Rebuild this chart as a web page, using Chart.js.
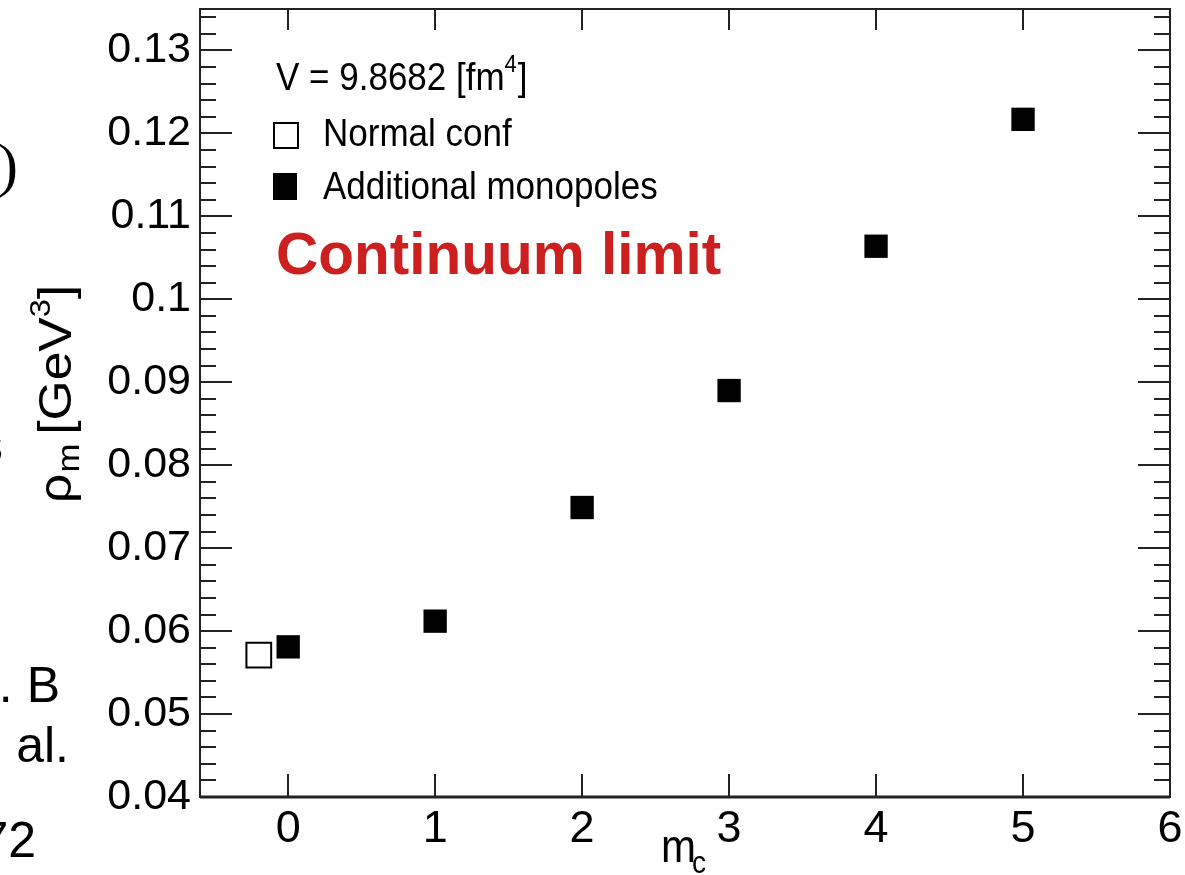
<!DOCTYPE html>
<html>
<head>
<meta charset="utf-8">
<script src="https://cdn.jsdelivr.net/npm/chart.js@4/dist/chart.umd.min.js"></script>
<style>
  html, body { margin: 0; padding: 0; background: #ffffff; }
  #wrap { position: relative; width: 1185px; height: 875px; }
  canvas { display: block; }
</style>
</head>
<body>
<div id="wrap"><canvas id="c" width="1185" height="875"></canvas></div>
<script>
// ---- data ----
const mcValues       = [0, 1, 2, 3, 4, 5];
const additionalRho  = [0.0581, 0.0612, 0.0749, 0.0890, 0.1064, 0.1217];
const normalMc       = [-0.2];
const normalRho      = [0.0571];
const xTickValues    = [0, 1, 2, 3, 4, 5, 6];
const yMajorLabels   = ['0.04', '0.05', '0.06', '0.07', '0.08', '0.09', '0.1', '0.11', '0.12', '0.13'];
const seriesNames    = ['Normal conf', 'Additional monopoles'];
const volumeText     = 'V = 9.8682 [fm';
const headline       = 'Continuum limit';

const additionalPts = mcValues.map((x, i) => ({ x: x, y: additionalRho[i] }));
const normalPts = normalMc.map((x, i) => ({ x: x, y: normalRho[i] }));

const FONT = '"Liberation Sans", Arial, Helvetica, sans-serif';
const AXIS = '#222222';

const rootFrame = {
  id: 'rootFrame',
  beforeDatasetsDraw(chart) {
    const ctx = chart.ctx;
    const a = chart.chartArea;
    const xs = chart.scales.x, ys = chart.scales.y;
    ctx.save();
    ctx.strokeStyle = AXIS;
    ctx.lineWidth = 2;
    // y ticks (inward) left & right
    ys.ticks.forEach(t => {
      const v = t.value;
      const major = Math.abs(Math.round(v * 100) - v * 100) < 1e-6;
      const py = Math.round(ys.getPixelForValue(v));
      const len = major ? 32 : 16;
      ctx.beginPath();
      ctx.moveTo(a.left, py); ctx.lineTo(a.left + len, py);
      ctx.moveTo(a.right, py); ctx.lineTo(a.right - len, py);
      ctx.stroke();
    });
    // x ticks (inward) bottom & top
    xs.ticks.forEach(t => {
      const px = Math.round(xs.getPixelForValue(t.value));
      ctx.beginPath();
      ctx.moveTo(px, a.bottom); ctx.lineTo(px, a.bottom - 23);
      ctx.moveTo(px, a.top); ctx.lineTo(px, a.top + 21);
      ctx.stroke();
    });
    // frame
    ctx.lineWidth = 2;
    ctx.strokeRect(a.left, a.top, a.right - a.left, a.bottom - a.top);
    ctx.lineWidth = 3;
    ctx.beginPath();
    ctx.moveTo(a.left, a.bottom); ctx.lineTo(a.right, a.bottom);
    ctx.stroke();
    ctx.restore();
  },
  afterDraw(chart) {
    const ctx = chart.ctx;
    ctx.save();
    ctx.fillStyle = '#000';
    ctx.textBaseline = 'alphabetic';

    // helper: vertically stretched text (ROOT style)
    function sText(txt, x, y, size, align, weight, color, sy) {
      ctx.save();
      ctx.translate(x, y);
      ctx.scale(1, sy || 1.12);
      ctx.font = (weight || 'normal') + ' ' + size + 'px ' + FONT;
      ctx.textAlign = align || 'left';
      ctx.fillStyle = color || '#000';
      ctx.fillText(txt, 0, 0);
      const w = ctx.measureText(txt).width;
      ctx.restore();
      return w;
    }

    // legend header
    let w = sText(volumeText, 276, 90, 35);
    sText('4', 276 + w, 72, 22);
    ctx.font = '22px ' + FONT;
    const w4 = ctx.measureText('4').width;
    sText(']', 276 + w + w4 + 1, 90, 35);

    // legend entries
    ctx.lineWidth = 2;
    ctx.strokeStyle = '#000';
    ctx.fillStyle = '#fff';
    ctx.fillRect(274, 123, 24, 25);
    ctx.strokeRect(274, 123, 24, 25);
    ctx.fillStyle = '#000';
    ctx.fillRect(273, 173, 24, 27);
    sText(seriesNames[0], 323, 146, 35);
    sText(seriesNames[1], 323, 199, 35);

    // headline
    sText(headline, 276, 274, 58.5, 'left', 'bold', 'rgb(204,32,32)', 1.0);

    // y axis title (rotated)
    ctx.save();
    ctx.translate(71, 503);
    ctx.rotate(-Math.PI / 2);
    ctx.scale(1.12, 1.0);
    ctx.fillStyle = '#000';
    ctx.textAlign = 'left';
    let cx = 0;
    ctx.font = '46px ' + FONT;
    ctx.fillText('\u03C1', cx, 0); cx += ctx.measureText('\u03C1').width + 1;
    ctx.font = '31px ' + FONT;
    ctx.fillText('m', cx, 8); cx += ctx.measureText('m').width + 8;
    ctx.font = '46px ' + FONT;
    ctx.fillText('[GeV', cx, 0); cx += ctx.measureText('[GeV').width;
    ctx.font = '29px ' + FONT;
    ctx.fillText('3', cx, -21); cx += ctx.measureText('3').width;
    ctx.font = '46px ' + FONT;
    ctx.fillText(']', cx, 0);
    ctx.restore();

    // x axis title m_c
    sText('m', 661, 862, 42, 'left', 'normal', '#000', 1.12);
    sText('c', 692, 873, 28, 'left', 'normal', '#000', 1.12);

    // clipped slide text on the left edge
    ctx.fillStyle = '#000';
    ctx.textAlign = 'right';
    ctx.font = '60px "Liberation Serif", "DejaVu Serif", serif';
    ctx.fillText(')', 18, 185);
    ctx.font = '50px ' + FONT;
    ctx.fillText('s', 3, 462);
    ctx.fillText('. B', 60, 702);
    ctx.fillText('al.', 69, 762);
    ctx.fillText('72', 36, 857);
    ctx.restore();
  }
};

new Chart(document.getElementById('c'), {
  type: 'scatter',
  data: {
    datasets: [
      {
        label: seriesNames[0],
        data: normalPts,
        pointStyle: 'rect',
        pointRadius: 17.5,
        backgroundColor: '#ffffff',
        borderColor: '#000000',
        borderWidth: 2
      },
      {
        label: seriesNames[1],
        data: additionalPts,
        pointStyle: 'rect',
        pointRadius: 16.5,
        backgroundColor: '#000000',
        borderColor: '#000000',
        borderWidth: 0
      }
    ]
  },
  plugins: [rootFrame],
  options: {
    responsive: false,
    devicePixelRatio: 1,
    animation: false,
    layout: { autoPadding: false, padding: { top: 9, right: 15, left: 0, bottom: 0 } },
    plugins: { legend: { display: false }, tooltip: { enabled: false } },
    scales: {
      x: {
        type: 'linear',
        min: -0.6, max: 6,
        grid: { display: false, drawTicks: false },
        border: { display: false },
        afterFit(s) { s.height = 78; s.paddingLeft = 0; s.paddingRight = 0; },
        afterBuildTicks(s) { s.ticks = xTickValues.map(v => ({ value: v })); },
        ticks: {
          autoSkip: false,
          maxRotation: 0,
          padding: 6,
          color: '#000',
          font: { family: FONT, size: 45 },
          callback: v => String(v)
        }
      },
      y: {
        type: 'linear',
        min: 0.04, max: 0.135,
        grid: { display: false, drawTicks: false },
        border: { display: false },
        afterFit(s) { s.width = 200; s.paddingTop = 0; s.paddingBottom = 0; },
        ticks: {
          stepSize: 0.002,
          includeBounds: false,
          autoSkip: false,
          padding: 9,
          color: '#000',
          font: { family: FONT, size: 43 },
          callback: function (v) {
            const k = Math.round(v * 1000);
            if (k % 10 !== 0) return '';
            const idx = k / 10 - 4;
            return yMajorLabels[idx] !== undefined ? yMajorLabels[idx] : '';
          }
        }
      }
    }
  }
});
</script>
</body>
</html>
